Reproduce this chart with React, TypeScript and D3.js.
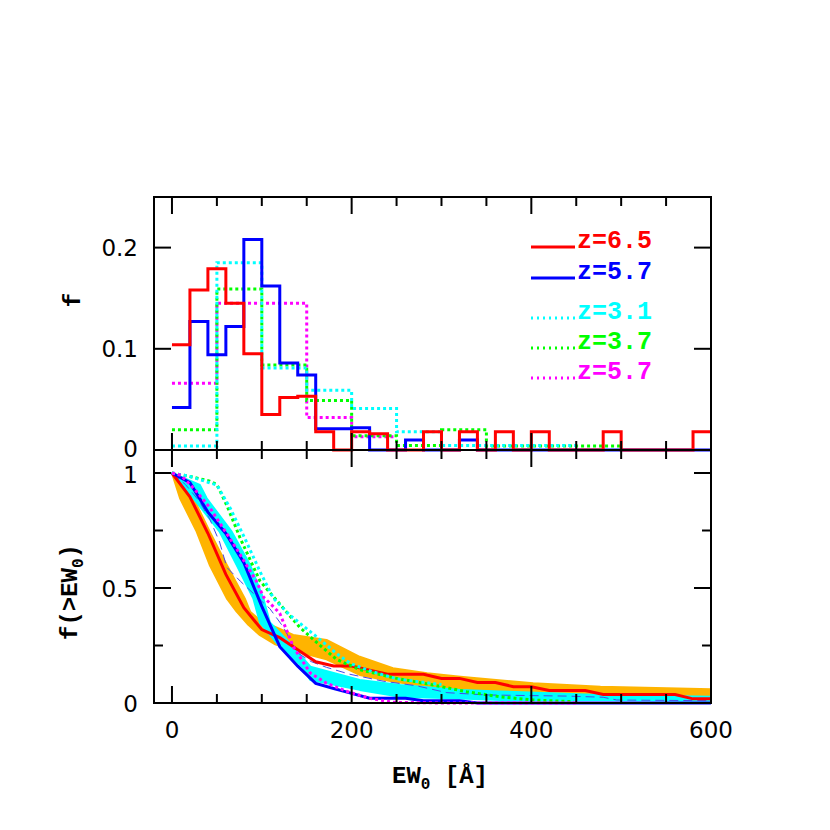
import React from 'react';
import * as d3 from 'd3';

// ---- top panel: differential EW distributions ----
// 20 A bins starting at 0
const hist20Width = 20;
const redHist = [0.104, 0.158, 0.179, 0.145, 0.095, 0.035, 0.052, 0.053, 0.018, 0, 0.018, 0.016, 0, 0, 0.018,
  0, 0.018, 0, 0.018, 0, 0.018, 0, 0, 0, 0.018, 0, 0, 0, 0, 0.018];
const blueHist = [0.042, 0.127, 0.094, 0.122, 0.208, 0.162, 0.086, 0.074, 0.021, 0.021, 0.022, 0, 0, 0.010, 0,
  0, 0.010, 0, 0, 0, 0, 0, 0, 0, 0, 0, 0, 0, 0, 0];
// 50 A bins starting at 0
const hist50Width = 50;
const cyanHist = [0.004, 0.185, 0.081, 0.059, 0.041, 0.018, 0.0045, 0.0045, 0.0045];
const greenHist = [0.020, 0.159, 0.084, 0.049, 0.014, 0.0045, 0.020, 0.004, 0.004, 0.004];
const magentaHist = [0.066, 0.145, 0.145, 0.032, 0.013];

// ---- bottom panel: cumulative distributions f(>EW0) ----
const redCumEW = [0, 20, 40, 60, 80, 100, 120, 140, 160, 180, 200, 220, 240, 280, 300, 320, 340, 360, 380, 400, 420, 460, 480, 560, 580, 600];
const redCumF = [1.0, 0.896, 0.738, 0.559, 0.414, 0.319, 0.284, 0.232, 0.179, 0.161, 0.161, 0.143, 0.125, 0.125, 0.107, 0.107, 0.089, 0.089, 0.071, 0.071, 0.054, 0.054, 0.037, 0.037, 0.018, 0.018];

const blueCumEW = [0, 20, 40, 60, 80, 100, 120, 140, 160, 180, 200, 220, 260, 280, 320, 340, 600];
const blueCumF = [1.0, 0.958, 0.83, 0.737, 0.61, 0.42, 0.245, 0.16, 0.085, 0.063, 0.042, 0.021, 0.021, 0.01, 0.01, 0.0, 0.0];

const magentaCumEW = [0, 10, 25, 42, 57, 72, 86, 94, 102, 110, 120, 135, 154, 172, 195, 220, 246, 300, 450];
const magentaCumF = [1.0, 0.99, 0.93, 0.85, 0.76, 0.67, 0.58, 0.53, 0.46, 0.43, 0.39, 0.245, 0.13, 0.086, 0.05, 0.02, 0.003, 0, 0];

const greenCumEW = [0, 20, 42, 50, 61, 76, 98, 120, 142, 165, 183, 209, 246, 291, 328, 365, 402, 447];
const greenCumF = [1.0, 0.985, 0.965, 0.95, 0.86, 0.716, 0.53, 0.43, 0.33, 0.25, 0.19, 0.145, 0.11, 0.078, 0.049, 0.027, 0.013, 0.006];

const cyanCumEW = [0, 20, 40, 50, 65, 83, 98, 113, 131, 161, 183, 198, 220, 250, 300];
const cyanCumF = [1.0, 0.985, 0.96, 0.948, 0.846, 0.70, 0.571, 0.455, 0.383, 0.288, 0.216, 0.173, 0.14, 0.105, 0.08];

const dashCumEW = [0, 15, 30, 42, 53, 61, 76, 95, 109, 124, 139, 155, 172, 198, 235, 272, 306, 350, 440, 480, 495, 600];
const dashCumF = [1.0, 0.95, 0.88, 0.80, 0.70, 0.59, 0.53, 0.46, 0.41, 0.33, 0.22, 0.18, 0.155, 0.125, 0.095, 0.075, 0.045, 0.035, 0.03, 0.025, 0.013, 0.01];

// shaded model envelopes (upper / lower edges)
const orangeHiEW = [0, 10, 24, 42, 61, 81, 87, 98, 135, 172, 209, 246, 284, 321, 402, 477, 551, 600];
const orangeHiF = [1.0, 0.96, 0.89, 0.745, 0.6, 0.455, 0.397, 0.36, 0.296, 0.274, 0.201, 0.151, 0.129, 0.114, 0.086, 0.071, 0.064, 0.06];
const orangeLoEW = [0, 9, 27.5, 42, 61, 72, 85, 98, 115, 135, 172, 209, 246, 284, 321, 402, 477, 551, 600];
const orangeLoF = [1.0, 0.89, 0.745, 0.6, 0.455, 0.397, 0.34, 0.295, 0.255, 0.228, 0.19, 0.122, 0.093, 0.072, 0.057, 0.042, 0.02, 0.013, 0.013];

const cyanHiEW = [0, 31, 38.6, 66.5, 87, 101.7, 109, 135, 154, 209, 254, 321, 365, 477, 600];
const cyanHiF = [1.0, 0.948, 0.89, 0.745, 0.6, 0.455, 0.35, 0.245, 0.158, 0.1, 0.078, 0.057, 0.05, 0.035, 0.027];
const cyanLoEW = [0, 12.6, 24, 53, 72, 90.5, 98, 120, 145, 154, 209, 254, 321, 365, 477, 600];
const cyanLoF = [1.0, 0.948, 0.89, 0.745, 0.6, 0.455, 0.35, 0.245, 0.158, 0.1, 0.057, 0.027, 0.02, 0.013, 0.013, 0.01];

// legend
const legendLabels = ['z=6.5', 'z=5.7', 'z=3.1', 'z=3.7', 'z=5.7'];
const legendColors = ['#ff0000', '#0000ff', '#00ffff', '#00ff00', '#ff00ff'];
const legendDotted = [false, false, true, true, true];

// ticks
const xMajor = [0, 200, 400, 600];
const xMinor = [50, 100, 150, 250, 300, 350, 450, 500, 550];
const topMajor = [0, 0.1, 0.2];
const topLabels = ['0', '0.1', '0.2'];
const botMajor = [0, 0.5, 1];
const botLabels = ['0', '0.5', '1'];
const botMinor = [0.25, 0.75];

const x = d3.scaleLinear().domain([-20, 600]).range([154, 711]);
const yTop = d3.scaleLinear().domain([0, 0.25]).range([450, 197]);
const yBot = d3.scaleLinear().domain([0, 1.1]).range([703, 450]);

const L = 154, R = 711, T = 197, M = 450, B = 703;
const majorLen = 17, minorLen = 9;

function stepPath(vals: number[], width: number) {
  const pts: [number, number][] = [];
  vals.forEach((v, i) => {
    pts.push([i * width, v]);
    pts.push([(i + 1) * width, v]);
  });
  return d3.line<[number, number]>().x(d => x(d[0])).y(d => yTop(d[1]))(pts) || '';
}

function cumPath(ew: number[], f: number[]) {
  const pts = ew.map((e, i) => [e, f[i]] as [number, number]);
  return d3.line<[number, number]>().x(d => x(d[0])).y(d => yBot(d[1]))(pts) || '';
}

function bandPath(hiEW: number[], hiF: number[], loEW: number[], loF: number[]) {
  const pts: [number, number][] = hiEW.map((e, i) => [e, hiF[i]] as [number, number])
    .concat(loEW.map((e, i) => [e, loF[i]] as [number, number]).reverse());
  return (d3.line<[number, number]>().x(d => x(d[0])).y(d => yBot(d[1]))(pts) || '') + 'Z';
}

const monoFont = '"Liberation Mono", "DejaVu Sans Mono", monospace';
const sansFont = '"DejaVu Sans", sans-serif';

export default function App() {
  const dotted = '3 3';
  return (
    <svg width={830} height={830} style={{ position: 'absolute', left: 0, top: 0, background: '#fff' }}>
      <rect width={830} height={830} fill="#fff" />

      {/* top histograms */}
      <g fill="none" strokeWidth={3}>
        <path d={stepPath(magentaHist, hist50Width)} stroke="#ff00ff" strokeDasharray={dotted} />
        <path d={stepPath(greenHist, hist50Width)} stroke="#00ff00" strokeDasharray={dotted} />
        <path d={stepPath(cyanHist, hist50Width)} stroke="#00ffff" strokeDasharray={dotted} />
        <path d={stepPath(blueHist, hist20Width)} stroke="#0000ff" />
        <path d={stepPath(redHist, hist20Width)} stroke="#ff0000" />
      </g>

      {/* bottom: bands and cumulative curves */}
      <path d={bandPath(orangeHiEW, orangeHiF, orangeLoEW, orangeLoF)} fill="#ffb400" stroke="#ffb400" strokeWidth={2} strokeLinejoin="round" />
      <path d={bandPath(cyanHiEW, cyanHiF, cyanLoEW, cyanLoF)} fill="#00ffff" stroke="#00ffff" strokeWidth={2} strokeLinejoin="round" />
      <g fill="none">
        <path d={cumPath(dashCumEW, dashCumF)} stroke="#4848e8" strokeWidth={1} strokeDasharray="9 5" />
        <path d={cumPath(redCumEW, redCumF)} stroke="#ff0000" strokeWidth={3} />
        <path d={cumPath(blueCumEW, blueCumF)} stroke="#0000ff" strokeWidth={3} />
        <path d={cumPath(greenCumEW, greenCumF)} stroke="#00ff00" strokeWidth={3} strokeDasharray={dotted} />
        <path d={cumPath(cyanCumEW, cyanCumF)} stroke="#00ffff" strokeWidth={3} strokeDasharray={dotted} />
        <path d={cumPath(magentaCumEW, magentaCumF)} stroke="#ff00ff" strokeWidth={3} strokeDasharray={dotted} />
      </g>

      {/* frame */}
      <g stroke="#000" strokeWidth={2} fill="none">
        <rect x={L} y={T} width={R - L} height={B - T} />
        <line x1={L} x2={R} y1={M} y2={M} />
        {xMajor.concat(xMinor).map(v => {
          const len = xMajor.includes(v) ? majorLen : minorLen;
          const px = x(v);
          return (
            <g key={'xt' + v}>
              <line x1={px} x2={px} y1={T} y2={T + len} />
              <line x1={px} x2={px} y1={M} y2={M - len} />
              <line x1={px} x2={px} y1={M} y2={M + len} />
              <line x1={px} x2={px} y1={B} y2={B - len} />
            </g>
          );
        })}
        {topMajor.map(v => (
          <g key={'yt' + v}>
            <line x1={L} x2={L + majorLen} y1={yTop(v)} y2={yTop(v)} />
            <line x1={R} x2={R - majorLen} y1={yTop(v)} y2={yTop(v)} />
          </g>
        ))}
        {botMajor.map(v => (
          <g key={'yb' + v}>
            <line x1={L} x2={L + majorLen} y1={yBot(v)} y2={yBot(v)} />
            <line x1={R} x2={R - majorLen} y1={yBot(v)} y2={yBot(v)} />
          </g>
        ))}
        {botMinor.map(v => (
          <g key={'ybm' + v}>
            <line x1={L} x2={L + minorLen} y1={yBot(v)} y2={yBot(v)} />
            <line x1={R} x2={R - minorLen} y1={yBot(v)} y2={yBot(v)} />
          </g>
        ))}
      </g>

      {/* tick labels */}
      <g fontFamily={sansFont} fontSize={23} fill="#000">
        {xMajor.map(v => (
          <text key={'xl' + v} x={x(v)} y={738} textAnchor="middle">{v}</text>
        ))}
        {topMajor.map((v, i) => (
          <text key={'tl' + v} x={138} y={yTop(v) + (v === 0 ? 7 : 8.5)} textAnchor="end">{topLabels[i]}</text>
        ))}
        {botMajor.map((v, i) => (
          <text key={'bl' + v} x={138} y={yBot(v) + (v === 1 ? 9.5 : 8.5)} textAnchor="end">{botLabels[i]}</text>
        ))}
      </g>

      {/* axis titles */}
      <g fontFamily={monoFont} fontWeight="bold" fontSize={24} fill="#000">
        <text transform="translate(80,300) rotate(-90)" textAnchor="middle">f</text>
        <text transform="translate(77,592) rotate(-90)" textAnchor="middle">
          f(&gt;EW<tspan fontSize={16} dy={6}>0</tspan><tspan dy={-6}>)</tspan>
        </text>
        <text x={440} y={783} textAnchor="middle">
          EW<tspan fontSize={16} dy={6}>0</tspan><tspan dy={-6}> [Å]</tspan>
        </text>
      </g>

      {/* legend */}
      <g>
        {legendLabels.map((lab, i) => {
          const ys = [248, 279, 319, 349, 379];
          const yl = [247, 278, 318, 348, 378];
          return (
            <g key={'lg' + i}>
              <line x1={531} x2={575} y1={yl[i]} y2={yl[i]} stroke={legendColors[i]} strokeWidth={3}
                strokeDasharray={legendDotted[i] ? '2 4' : undefined} />
              <text x={577} y={ys[i]} fill={legendColors[i]} fontFamily={monoFont} fontWeight="bold" fontSize={25}>{lab}</text>
            </g>
          );
        })}
      </g>
    </svg>
  );
}
